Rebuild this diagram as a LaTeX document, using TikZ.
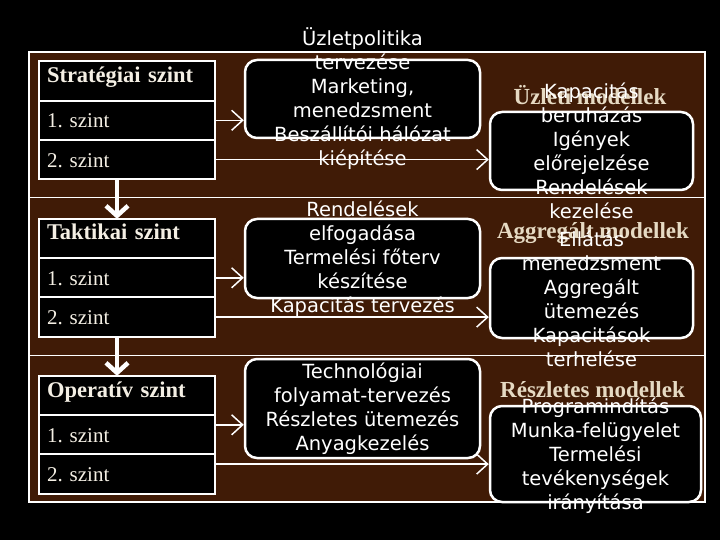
\documentclass[tikz,border=0pt]{standalone}
\usepackage{fontspec}
\setmainfont{Liberation Serif}
\newfontfamily\boxfont{DejaVu Sans}
\usepackage{xcolor}
\usepackage{tikz}
\usetikzlibrary{arrows.meta, positioning}
\definecolor{lgbrown}{HTML}{401B06}
\definecolor{lgcream}{HTML}{F4EFE4}
\definecolor{lgtitle}{HTML}{E6DAC3}

\begin{document}
\begin{tikzpicture}[x=1pt, y=-1pt,
        row/.style={rectangle, fill=black, draw=white, line width=2pt, outer sep=0pt,
          minimum width=176pt, minimum height=39.3pt, text width=160pt, align=left,
          text height=19pt, text depth=4pt,
          text=lgcream, font=\fontsize{21}{24}\selectfont\frenchspacing},
        head/.style={row, text height=15pt, text depth=12pt,
          font=\fontsize{22.5}{26}\selectfont\bfseries},
        rbox/.style={rectangle, rounded corners=12pt, fill=black, draw=white, line width=2.5pt},
        txt/.style={align=center, text=white, font=\boxfont\fontsize{19.5}{24}\selectfont},
        ttl/.style={text=lgtitle, font=\fontsize{23}{26}\selectfont\bfseries},
        arr/.style={-{Straight Barb[length=11pt,width=20pt]}, draw=white, line width=1.5pt},
        downarr/.style={-{Straight Barb[length=10pt,width=22pt]}, draw=white, line width=4.5pt}]
        \fill[black] (0,0) rectangle (720,540);
        \useasboundingbox (0,0) rectangle (720,540);
        % frame and level dividers
        \draw[fill=lgbrown, draw=white, line width=1.5pt] (29,52) rectangle (705,502);
        \draw[white, line width=1pt] (29,198) -- (705,198);
        \draw[white, line width=1pt] (29,355) -- (705,355);
        % model titles
        \node[ttl] (uzltitle) at (590,95) {Üzleti modellek};
        \node[ttl] (aggtitle) at (593,233) {Aggregált modellek};
        \node[ttl] (resztitle) at (592.5,390) {Részletes modellek};
        % levels
        \node[head] (strat) at (127,81) {Stratégiai szint};
        \node[row, below=0pt of strat] (strat1) {1. szint};
        \node[row, below=0pt of strat1] (strat2) {2. szint};
        \node[head] (takt) at (127,238.5) {Taktikai szint};
        \node[row, below=0pt of takt] (takt1) {1. szint};
        \node[row, below=0pt of takt1] (takt2) {2. szint};
        \node[head] (oper) at (127,395.5) {Operatív szint};
        \node[row, below=0pt of oper] (oper1) {1. szint};
        \node[row, below=0pt of oper1] (oper2) {2. szint};
        % boxes
        \node[rbox, minimum width=235pt, minimum height=78pt] (mid1) at (362.5,99) {};
        \node[rbox, minimum width=235pt, minimum height=79pt] (mid2) at (362.5,258.5) {};
        \node[rbox, minimum width=235pt, minimum height=99pt] (mid3) at (362.5,408.5) {};
        \node[rbox, minimum width=203pt, minimum height=78pt] (uzl) at (591.5,151) {};
        \node[rbox, minimum width=203pt, minimum height=80pt] (agg) at (591.5,298) {};
        \node[rbox, minimum width=211pt, minimum height=96pt] (resz) at (595.5,454) {};
        \node[txt] (mid1txt) at (mid1.center) {Üzletpolitika\\tervezése\\Marketing,\\menedzsment\\Beszállítói hálózat\\kiépítése};
        \node[txt] (mid2txt) at (mid2.center) {Rendelések\\elfogadása\\Termelési főterv\\készítése\\Kapacitás tervezés};
        \node[txt] (mid3txt) at (mid3.center) {Technológiai\\folyamat-tervezés\\Részletes ütemezés\\Anyagkezelés};
        \node[txt] (uzltxt) at (uzl.center) {Kapacitás\\beruházás\\Igények\\előrejelzése\\Rendelések\\kezelése};
        \node[txt] (aggtxt) at ([yshift=-1pt]agg.center) {Ellátás\\menedzsment\\Aggregált\\ütemezés\\Kapacitások\\terhelése};
        \node[txt] (reszltxt) at ([yshift=-2pt]resz.center) {Programindítás\\Munka-felügyelet\\Termelési\\tevékenységek\\irányítása};
        % connectors
        \draw[downarr] ([xshift=-10pt]strat2.south) -- ([xshift=-10pt]takt.north);
        \draw[downarr] ([xshift=-10pt]takt2.south) -- ([xshift=-10pt]oper.north);
        \draw[arr] (strat1.east) -- (strat1.east -| mid1.west);
        \draw[arr] (strat2.east) -- (strat2.east -| uzl.west);
        \draw[arr] (takt1.east) -- (takt1.east -| mid2.west);
        \draw[arr] (takt2.east) -- (takt2.east -| agg.west);
        \draw[arr] ([yshift=10pt]oper1.east) -- ([yshift=10pt]oper1.east -| mid3.west);
        \draw[arr] ([yshift=10pt]oper2.east) -- ([yshift=10pt]oper2.east -| resz.west);
      \end{tikzpicture}
\end{document}
